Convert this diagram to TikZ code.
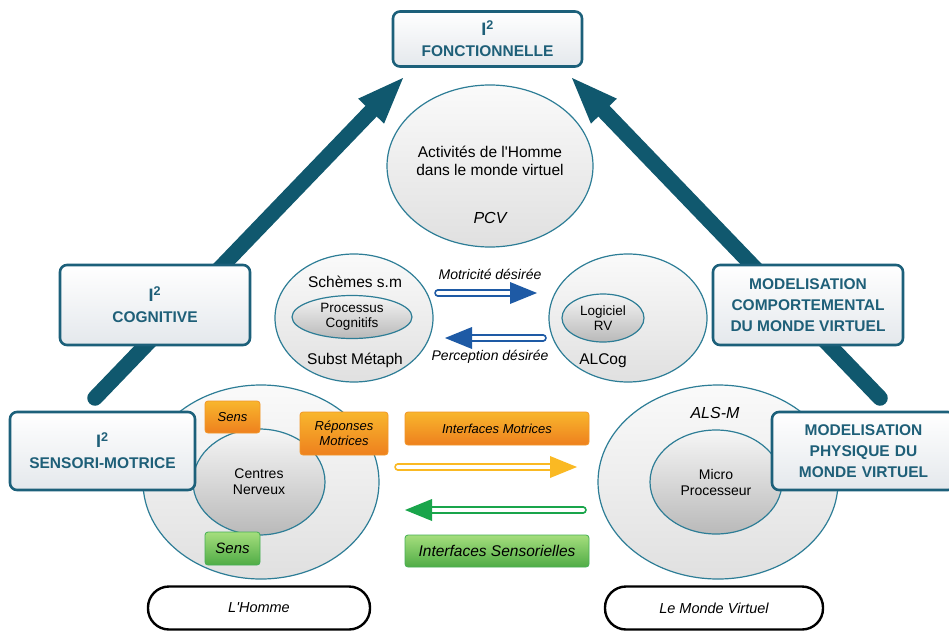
\documentclass[tikz,border=0pt]{standalone}
\usepackage{fontspec}
\setmainfont{Liberation Sans}[Ligatures=TeXOff]
\usetikzlibrary{shapes.geometric,calc}

\definecolor{frameteal}{RGB}{28,96,122}
\definecolor{textteal}{RGB}{30,95,120}
\definecolor{arrowteal}{RGB}{16,88,110}
\definecolor{ringteal}{RGB}{45,125,150}
\definecolor{boxgray}{RGB}{228,232,236}
\definecolor{bubbletop}{RGB}{250,250,250}
\definecolor{bubblegray}{RGB}{224,224,224}
\definecolor{coretop}{RGB}{246,246,246}
\definecolor{corebottom}{RGB}{185,185,185}
\definecolor{orangetop}{RGB}{248,182,45}
\definecolor{orangebottom}{RGB}{238,128,30}
\definecolor{orangeedge}{RGB}{242,150,40}
\definecolor{greentop}{RGB}{165,222,125}
\definecolor{greenbottom}{RGB}{80,172,70}
\definecolor{greenedge}{RGB}{70,175,85}
\definecolor{arrowblue}{RGB}{30,90,165}
\definecolor{arrowyellow}{RGB}{250,185,35}
\definecolor{arrowgreen}{RGB}{25,165,75}

\newcommand\capsfont{\fontsize{15.5}{21}\selectfont\bfseries}
\newcommand\bodyfont{\fontsize{15.5}{18}\selectfont}
\newcommand\smallbody{\fontsize{13.5}{15}\selectfont}
\newcommand\bigI{{\fontsize{18}{18}\selectfont I\textsuperscript{2}}}

% hollow arrow: outlined shaft with a solid triangular head
\newcommand\hollowarrow[3]{%
  \coordinate (hb) at ($(#2)!27pt!(#1)$);
  \draw[hollow,draw=#3] (#1) -- (hb);
  \fill[#3] (#2) -- ($(hb)!11pt!90:(#2)$) -- ($(hb)!11pt!-90:(#2)$) -- cycle;}
% thick arrow with a round tail
\newcommand\thickarrow[2]{%
  \coordinate (tb) at ($(#2)!46pt!(#1)$);
  \draw[bigshaft] (#1) -- (tb);
  \fill[arrowteal] (#2) -- ($(tb)!18pt!90:(#2)$) -- ($(tb)!18pt!-90:(#2)$) -- cycle;}

\begin{document}
\begin{tikzpicture}[x=1pt,y=-1pt,
  framebox/.style={draw=frameteal, line width=2.6pt, rounded corners=7pt,
    top color=white, bottom color=boxgray, text=textteal, align=center,
    font=\capsfont, inner sep=0pt},
  bubble/.style={ellipse, draw=ringteal, line width=1.2pt, top color=bubbletop,
    bottom color=bubblegray, inner sep=0pt},
  core/.style={ellipse, draw=ringteal, line width=1.2pt, top color=coretop,
    bottom color=corebottom, inner sep=0pt, align=center},
  tagorange/.style={draw=orangeedge, line width=0.8pt, rounded corners=3pt,
    top color=orangetop, bottom color=orangebottom, align=center, inner sep=0pt},
  taggreen/.style={draw=greenedge, line width=0.8pt, rounded corners=3pt,
    top color=greentop, bottom color=greenbottom, align=center, inner sep=0pt},
  pill/.style={draw=black, line width=2.4pt, rounded corners=21pt, fill=white,
    font=\fontsize{14.5}{16}\selectfont\itshape, minimum height=43pt},
  bigshaft/.style={line width=15.5pt, draw=arrowteal, line cap=round},
  hollow/.style={double=white, double distance=4pt, line width=1.8pt, line cap=round},
  label/.style={inner sep=0pt, align=center}]

\useasboundingbox (0,0) rectangle (949,634);
\fill[white] (0,0) rectangle (949,634);

% rising arrows towards the functional level
\coordinate (ltail) at (95,398);
\coordinate (ltip) at (403,78);
\coordinate (rtail) at (880,398);
\coordinate (rtip) at (572,78);
\thickarrow{ltail}{ltip}
\thickarrow{rtail}{rtip}

% top: activities in the virtual world
\node[framebox, minimum width=189pt, minimum height=55pt] (fonc) at (487.5,39)
  {\bigI\\FONCTIONNELLE};
\node[bubble, minimum width=206pt, minimum height=162pt] (pcvzone) at (490,166) {};
\node[label, font=\bodyfont] (activ) at (490,161) {Activités de l'Homme\\dans le monde virtuel};
\node[label, font=\fontsize{16}{18}\selectfont\itshape] (pcv) at (490,218) {PCV};

% middle: cognitive level
\node[bubble, minimum width=158pt, minimum height=128pt] (schemes) at (354,318) {};
\node[core, minimum width=120pt, minimum height=43pt, font=\smallbody] (cogn) at (352,317)
  {Processus\\Cognitifs};
\node[label, font=\fontsize{15.5}{18}\selectfont] (schm) at (355,282) {Schèmes s.m};
\node[label, font=\fontsize{15.5}{18}\selectfont] (subst) at (355,360) {Subst Métaph};

\node[bubble, minimum width=158pt, minimum height=128pt] (alcogzone) at (628,318) {};
\node[core, minimum width=82pt, minimum height=48pt, font=\smallbody] (logiciel) at (603,318)
  {Logiciel\\RV};
\node[label, font=\fontsize{15.5}{18}\selectfont] (alcog) at (603,361) {ALCog};

\node[label, font=\fontsize{14}{16}\selectfont\itshape] (motd) at (490,274) {Motricité désirée};
\node[label, font=\fontsize{14}{16}\selectfont\itshape] (perd) at (490,357) {Perception désirée};
\coordinate (m1t) at (438,293);
\coordinate (m1h) at (537,293);
\coordinate (p1t) at (543,338);
\coordinate (p1h) at (445,338);
\hollowarrow{m1t}{m1h}{arrowblue}
\hollowarrow{p1t}{p1h}{arrowblue}

% bottom left: the human
\node[bubble, minimum width=236pt, minimum height=194pt] (homme) at (261,482) {};
\node[core, minimum width=132pt, minimum height=106pt, font=\fontsize{14}{16}\selectfont]
  (nerfs) at (259,482) {Centres\\Nerveux};
\node[tagorange, minimum width=55pt, minimum height=32pt, font=\fontsize{13}{15}\selectfont\itshape]
  (sensup) at (232.5,417) {Sens};
\node[tagorange, minimum width=88pt, minimum height=43pt, font=\fontsize{13}{15}\selectfont\itshape]
  (reponses) at (344,433.5) {Réponses\\Motrices};
\node[taggreen, minimum width=55pt, minimum height=33pt, font=\fontsize{15}{17}\selectfont\itshape]
  (sensdown) at (232.5,548.5) {Sens};

% bottom right: the virtual world
\node[bubble, minimum width=240pt, minimum height=194pt] (monde) at (718,482) {};
\node[core, minimum width=132pt, minimum height=104pt, font=\fontsize{14}{16}\selectfont]
  (micro) at (716,482) {Micro\\Processeur};
\node[label, font=\fontsize{16}{18}\selectfont\itshape] (alsm) at (715,413) {ALS-M};

% interfaces between both worlds
\node[tagorange, minimum width=184pt, minimum height=33pt, font=\fontsize{13}{15}\selectfont\itshape]
  (intmot) at (497,428.5) {Interfaces Motrices};
\node[taggreen, minimum width=184pt, minimum height=32pt, font=\fontsize{15.5}{17}\selectfont\itshape]
  (intsens) at (497,551) {Interfaces Sensorielles};
\coordinate (y1t) at (398,467);
\coordinate (y1h) at (577,467);
\coordinate (g1t) at (583,510);
\coordinate (g1h) at (405,510);
\hollowarrow{y1t}{y1h}{arrowyellow}
\hollowarrow{g1t}{g1h}{arrowgreen}

% level boxes
\node[framebox, minimum width=190pt, minimum height=80pt] (cognitive) at (155,305)
  {\bigI\\COGNITIVE};
\node[framebox, minimum width=190pt, minimum height=80pt] (comport) at (808,305)
  {MODELISATION\\COMPORTEMENTAL\\DU MONDE VIRTUEL};
\node[framebox, minimum width=185pt, minimum height=78pt] (sensori) at (102.5,451)
  {\bigI\\SENSORI-MOTRICE};
\node[framebox, minimum width=183pt, minimum height=78pt, text width=183pt] (physique) at (863.5,451)
  {MODELISATION\\PHYSIQUE DU\\MONDE VIRTUEL};

% world labels
\node[pill, minimum width=222pt] (lhomme) at (259,608) {L'Homme};
\node[pill, minimum width=218pt] (lmonde) at (714,608) {Le Monde Virtuel};

\end{tikzpicture}
\end{document}
